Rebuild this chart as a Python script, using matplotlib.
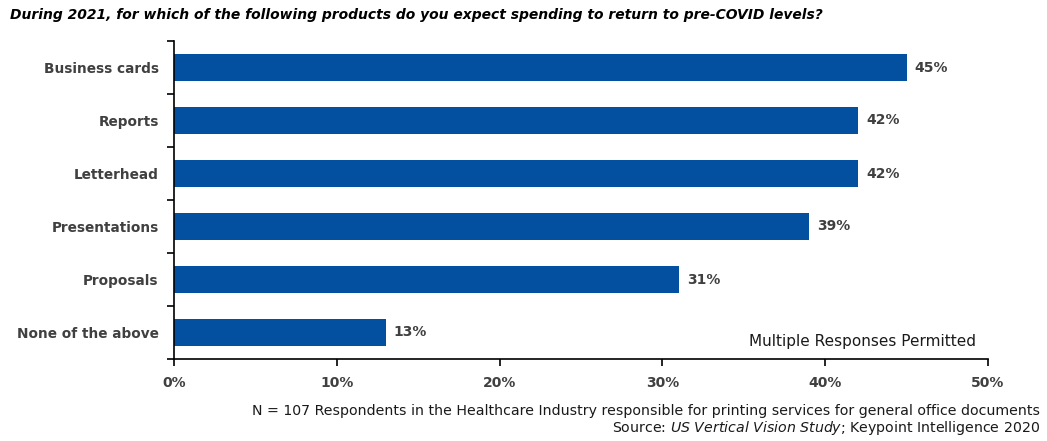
import matplotlib.pyplot as plt
from matplotlib.ticker import FixedLocator, PercentFormatter

products = ["Business cards", "Reports", "Letterhead", "Presentations",
            "Proposals", "None of the above"]
shares = [45, 42, 42, 39, 31, 13]
xticks = [0, 10, 20, 30, 40, 50]

bar_color = "#0450A0"
txt_color = "#404040"

plt.rcParams['font.family'] = ['DejaVu Sans']

fig = plt.figure(figsize=(10.47, 4.41), dpi=100)
ax = fig.add_axes([174 / 1047, 1 - 359 / 441, (988 - 174) / 1047, (359 - 41) / 441])

pos = list(range(len(products)))
ax.barh(pos, shares, height=0.5, color=bar_color)
ax.set_ylim(len(products) - 0.5, -0.5)
ax.set_xlim(0, 50)

# value labels next to each bar
for p, v in zip(pos, shares):
    ax.text(v + 0.5, p, f"{v}%", va="center", ha="left", fontsize=10,
            fontweight="bold", color=txt_color)

ax.set_yticks(pos)
ax.set_yticklabels(products, fontsize=9.8, fontweight="bold", color=txt_color)
ax.tick_params(axis="y", length=0, pad=11)
ax.yaxis.set_minor_locator(FixedLocator([p - 0.5 for p in pos] + [len(pos) - 0.5]))
ax.tick_params(axis="y", which="minor", length=5, width=1.2)

ax.set_xticks(xticks)
ax.xaxis.set_major_formatter(PercentFormatter(decimals=0))
ax.tick_params(axis="x", length=5, width=1.2, labelsize=10, labelcolor=txt_color, pad=7)
for lab in ax.get_xticklabels():
    lab.set_fontweight("bold")

for side in ["top", "right"]:
    ax.spines[side].set_visible(False)
for side in ["left", "bottom"]:
    ax.spines[side].set_linewidth(1.2)

ax.text(0.985, 0.03, "Multiple Responses Permitted", transform=ax.transAxes,
        ha="right", va="bottom", fontsize=11, color="#1a1a1a")

fig.text(10 / 1047, 1 - 15 / 441,
         "During 2021, for which of the following products do you expect spending to return to pre-COVID levels?",
         ha="left", va="center", fontsize=10, fontweight="bold", fontstyle="italic", color="black")

fig.text(1040 / 1047, 1 - 411 / 441,
         "N = 107 Respondents in the Healthcare Industry responsible for printing services for general office documents",
         ha="right", va="center", fontsize=10.2, color="#1a1a1a")
fig.text(1040 / 1047, 1 - 428 / 441,
         "Source: $\\it{US\\ Vertical\\ Vision\\ Study}$; Keypoint Intelligence 2020",
         ha="right", va="center", fontsize=10.2, color="#1a1a1a")

fig.savefig("out.png", dpi=100)
